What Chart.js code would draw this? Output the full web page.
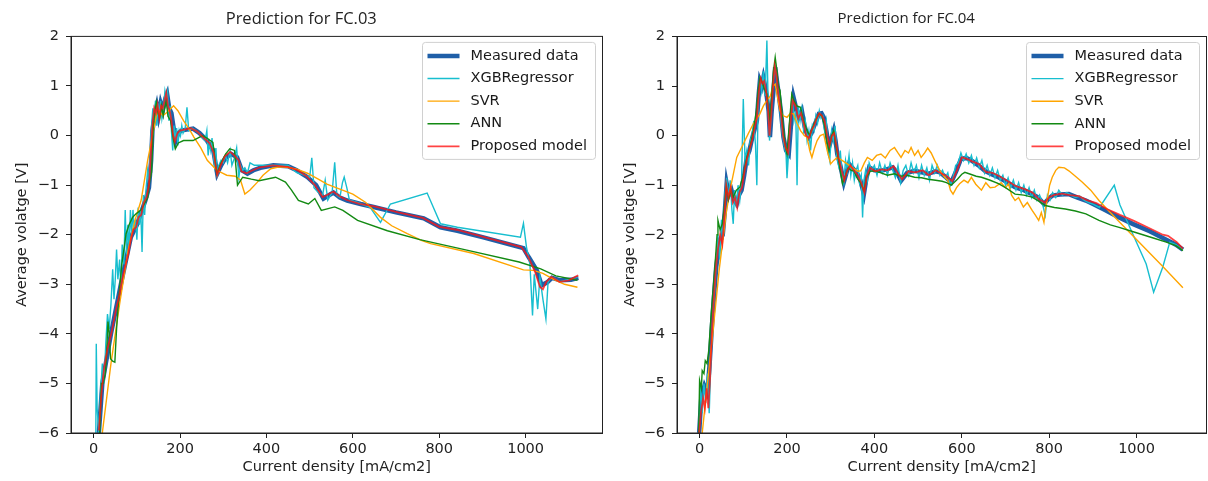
<!DOCTYPE html>
<html>
<head>
<meta charset="utf-8">
<script src="https://cdn.jsdelivr.net/npm/chart.js@4.4.0/dist/chart.umd.min.js"></script>
<style>
  html, body { margin: 0; padding: 0; background: #fff; width: 1208px; height: 481px; overflow: hidden; }
  .panel { position: absolute; top: 0; height: 481px; }
  #left { left: 0; width: 604px; }
  #right { left: 606px; width: 602px; }
</style>
</head>
<body>
<div class="panel" id="left"><canvas id="fc03"></canvas></div>
<div class="panel" id="right"><canvas id="fc04"></canvas></div>
<script>
const seriesLabels = ['Measured data', 'XGBRegressor', 'SVR', 'ANN', 'Proposed model'];
const xTicks = [0, 200, 400, 600, 800, 1000];
const yTicks = [-6, -5, -4, -3, -2, -1, 0, 1, 2];

// FC.03 -- [current density, voltage]
const fc03Measured = [[12,-6],[20,-5],[40,-4],[63,-3],[86,-2.05],[100,-1.8],[110,-1.55],[120,-1.3],[128,-1.05],[133,-0.5],[136,0.1],[142,0.45],[146,0.6],[150,0.4],[155,0.65],[160,0.5],[166,0.75],[170,0.84],[175,0.55],[180,0.45],[186,0.1],[190,-0.1],[196,0.05],[203,0.1],[215,0.12],[230,0.14],[245,0.05],[262,-0.1],[277,-0.3],[286,-0.77],[295,-0.6],[305,-0.45],[318,-0.37],[332,-0.44],[343,-0.7],[356,-0.77],[370,-0.7],[386,-0.65],[416,-0.6],[450,-0.62],[470,-0.7],[495,-0.84],[515,-1.0],[532,-1.27],[555,-1.15],[570,-1.25],[587,-1.31],[618,-1.38],[648,-1.44],[700,-1.55],[764,-1.67],[803,-1.85],[842,-1.92],[900,-2.05],[995,-2.27],[1007,-2.45],[1026,-2.72],[1037,-3.02],[1050,-2.96],[1061,-2.87],[1080,-2.92],[1105,-2.91],[1122,-2.87]];
const fc03Xgb = [[5,-6],[6,-4.2],[8,-5.5],[12,-6],[16,-5.2],[20,-4.6],[24,-5.0],[28,-4.2],[32,-3.6],[36,-3.9],[40,-3.4],[44,-2.7],[47,-3.3],[50,-2.9],[53,-2.3],[56,-2.9],[60,-2.5],[63,-3.1],[66,-2.2],[70,-2.6],[73,-1.5],[76,-2.4],[79,-1.8],[82,-2.3],[85,-1.5],[88,-2.0],[91,-1.5],[94,-1.9],[97,-1.7],[100,-2.1],[103,-1.45],[106,-1.8],[109,-1.5],[112,-2.35],[115,-1.2],[118,-1.6],[121,-1.1],[125,-0.7],[128,-0.9],[131,-0.3],[134,0.2],[137,0.55],[140,0.3],[143,0.7],[146,0.2],[149,0.65],[152,0.45],[155,0.7],[158,0.35],[162,0.6],[165,0.9],[168,0.75],[171,0.88],[174,0.3],[177,0.6],[180,0.1],[183,-0.3],[186,0.2],[189,-0.1],[192,0.15],[195,-0.2],[198,0.1],[201,0.0],[204,0.2],[207,0.05],[212,0.15],[216,0.57],[220,0.1],[228,0.15],[236,0.1],[244,0.05],[252,-0.05],[258,-0.1],[262,0.1],[265,-0.4],[268,-0.15],[271,-0.3],[274,-0.05],[277,-0.4],[280,-0.6],[283,-0.25],[286,-0.85],[290,-0.6],[295,-0.5],[300,-0.55],[305,-0.4],[310,-0.55],[316,-0.3],[320,-0.6],[326,-0.45],[331,-0.25],[336,-0.85],[340,-0.6],[345,-0.7],[350,-0.65],[356,-0.75],[362,-0.55],[372,-0.6],[382,-0.6],[400,-0.6],[430,-0.6],[450,-0.6],[470,-0.75],[490,-0.8],[500,-0.85],[505,-0.45],[510,-1.05],[520,-1.15],[530,-1.2],[536,-0.9],[542,-1.3],[552,-1.15],[558,-0.54],[563,-1.2],[570,-1.25],[576,-0.95],[580,-0.84],[586,-1.05],[592,-1.3],[610,-1.35],[640,-1.45],[664,-1.75],[687,-1.38],[772,-1.16],[803,-1.78],[842,-1.85],[988,-2.05],[995,-1.77],[1002,-2.25],[1010,-2.6],[1016,-3.63],[1020,-2.8],[1028,-3.5],[1033,-2.85],[1040,-3.3],[1047,-3.7],[1052,-2.95],[1060,-2.85],[1080,-2.95],[1100,-2.9],[1122,-2.85]];
const fc03Svr = [[20,-6],[40,-4.6],[60,-3.4],[80,-2.3],[96,-1.7],[110,-1.3],[125,-0.5],[140,0.17],[146,0.45],[152,0.5],[160,0.4],[170,0.47],[185,0.6],[195,0.5],[208,0.3],[222,0.12],[232,-0.03],[248,-0.25],[263,-0.5],[285,-0.7],[308,-0.8],[328,-0.82],[340,-0.9],[350,-1.18],[362,-1.1],[378,-0.95],[392,-0.8],[410,-0.67],[430,-0.63],[448,-0.64],[470,-0.68],[495,-0.76],[520,-0.88],[540,-0.98],[570,-1.08],[600,-1.18],[630,-1.35],[664,-1.65],[690,-1.82],[726,-1.98],[760,-2.12],[780,-2.18],[880,-2.38],[995,-2.71],[1018,-2.72],[1040,-2.78],[1065,-2.9],[1090,-3.0],[1120,-3.06]];
const fc03Ann = [[14,-6],[16,-5.4],[18,-5.0],[22,-5.0],[27,-4.8],[30,-4.4],[33,-3.75],[36,-4.0],[39,-4.5],[44,-4.55],[49,-4.57],[53,-3.9],[57,-3.4],[60,-3.1],[65,-2.6],[70,-2.3],[75,-1.98],[82,-1.8],[90,-1.65],[98,-1.58],[110,-1.5],[125,-1.25],[130,-0.9],[134,-0.74],[138,0.2],[142,0.5],[145,0.67],[149,0.45],[153,0.35],[157,0.6],[161,0.4],[164,0.55],[168,0.7],[172,0.39],[178,0.3],[184,-0.05],[189,-0.27],[196,-0.15],[208,-0.1],[230,-0.1],[252,0.0],[262,-0.05],[276,-0.14],[285,-0.77],[295,-0.55],[305,-0.38],[315,-0.27],[326,-0.3],[333,-1.0],[345,-0.84],[365,-0.88],[383,-0.91],[421,-0.84],[444,-0.94],[458,-1.1],[474,-1.31],[497,-1.38],[512,-1.27],[527,-1.51],[545,-1.47],[558,-1.44],[577,-1.51],[611,-1.71],[680,-1.92],[755,-2.1],[869,-2.32],[985,-2.55],[1035,-2.69],[1070,-2.83],[1120,-2.92]];
const fc03Proposed = [[12,-5.95],[18,-5.2],[24,-4.7],[32,-4.3],[42,-3.95],[52,-3.5],[60,-3.2],[66,-2.9],[74,-2.6],[80,-2.4],[86,-2.1],[92,-1.9],[98,-1.85],[104,-1.65],[110,-1.6],[116,-1.35],[122,-1.25],[128,-1.0],[132,-0.4],[136,0.2],[140,0.55],[144,0.45],[148,0.62],[152,0.35],[156,0.6],[160,0.55],[164,0.7],[168,0.86],[172,0.6],[176,0.5],[180,0.3],[184,0.0],[188,-0.12],[194,0.05],[200,0.1],[210,0.12],[225,0.15],[240,0.08],[255,-0.05],[268,-0.15],[278,-0.35],[286,-0.8],[294,-0.6],[304,-0.42],[316,-0.33],[328,-0.42],[336,-0.5],[342,-0.72],[354,-0.76],[368,-0.7],[385,-0.64],[415,-0.6],[450,-0.63],[472,-0.7],[493,-0.82],[512,-1.0],[530,-1.24],[540,-1.2],[555,-1.13],[568,-1.22],[586,-1.3],[616,-1.38],[650,-1.43],[705,-1.55],[762,-1.66],[800,-1.84],[840,-1.9],[900,-2.04],[990,-2.25],[1005,-2.43],[1022,-2.75],[1033,-3.05],[1040,-3.1],[1048,-2.95],[1060,-2.85],[1078,-2.95],[1100,-2.92],[1115,-2.85],[1122,-2.82]];

// FC.04
const fc04Measured = [[-1,-6],[4,-5.27],[11,-5.05],[18,-5.2],[23,-4.6],[30,-3.6],[38,-2.65],[46,-2.12],[53,-2.0],[58,-1.5],[62,-0.97],[67,-1.2],[73,-1.1],[79,-1.3],[85,-1.38],[90,-1.2],[96,-1.1],[102,-0.8],[108,-0.44],[114,-0.3],[119,-0.1],[125,0.1],[131,0.3],[135,0.8],[138,1.1],[142,1.0],[146,1.17],[150,1.0],[154,0.77],[158,0.5],[161,-0.03],[165,0.5],[169,0.9],[173,1.38],[177,1.1],[180,0.91],[186,0.5],[192,-0.03],[198,-0.3],[204,-0.37],[209,0.2],[215,0.77],[221,0.55],[227,0.37],[234,0.5],[240,0.2],[245,0.05],[250,-0.03],[256,0.05],[261,0.17],[267,0.3],[273,0.44],[279,0.45],[284,0.37],[290,0.1],[296,-0.24],[302,-0.05],[307,0.1],[311,-0.1],[315,-0.37],[322,-0.6],[330,-0.94],[336,-0.75],[342,-0.57],[350,-0.65],[361,-0.77],[368,-0.9],[376,-1.18],[382,-0.85],[388,-0.64],[400,-0.7],[415,-0.71],[428,-0.68],[442,-0.64],[452,-0.75],[461,-0.91],[475,-0.75],[492,-0.71],[508,-0.74],[523,-0.77],[540,-0.72],[550,-0.74],[565,-0.85],[576,-0.94],[588,-0.7],[598,-0.47],[610,-0.45],[622,-0.5],[638,-0.6],[653,-0.71],[668,-0.78],[684,-0.84],[700,-0.92],[722,-1.04],[742,-1.1],[761,-1.18],[775,-1.25],[788,-1.38],[798,-1.28],[807,-1.21],[825,-1.19],[845,-1.18],[865,-1.25],[884,-1.31],[905,-1.4],[930,-1.51],[960,-1.65],[991,-1.78],[1030,-1.93],[1068,-2.1],[1090,-2.2],[1106,-2.3]];
const fc04Xgb = [[-1,-6],[2,-5.0],[6,-5.6],[10,-5.0],[14,-5.4],[18,-4.8],[22,-5.6],[26,-4.5],[30,-3.7],[34,-3.2],[38,-2.6],[42,-2.0],[46,-2.5],[50,-1.7],[54,-2.1],[58,-1.2],[62,-0.85],[66,-1.3],[70,-0.9],[74,-1.5],[77,-1.78],[80,-1.1],[84,-1.45],[88,-1.0],[92,-1.3],[96,-0.9],[100,0.74],[104,-0.5],[108,-0.3],[112,-0.6],[116,-0.1],[120,0.0],[124,0.3],[128,-0.2],[131,-1.0],[134,0.7],[138,1.2],[142,0.9],[146,1.3],[150,0.8],[154,1.92],[157,0.6],[160,-0.1],[163,0.3],[167,1.0],[170,1.2],[174,1.4],[178,1.0],[182,0.8],[186,0.3],[190,0.0],[194,-0.2],[198,-0.4],[200,-0.86],[204,-0.3],[208,0.4],[212,0.75],[216,0.3],[220,0.5],[223,-1.0],[226,0.6],[230,0.3],[234,0.55],[238,0.1],[242,0.3],[246,-0.1],[250,0.1],[254,-0.3],[258,0.2],[262,0.1],[266,0.4],[270,0.25],[274,0.5],[278,0.35],[282,0.4],[286,0.1],[290,0.3],[294,-0.3],[298,-0.5],[302,0.1],[306,-0.1],[310,0.2],[314,-0.4],[318,-0.6],[322,-0.3],[326,-0.8],[330,-0.95],[334,-0.5],[338,-0.7],[342,-0.4],[346,-0.8],[350,-0.55],[354,-0.9],[358,-0.7],[362,-0.6],[366,-0.95],[370,-0.8],[373,-1.65],[376,-0.9],[380,-0.7],[384,-0.9],[388,-0.55],[394,-0.7],[400,-0.6],[406,-0.8],[412,-0.55],[418,-0.75],[424,-0.6],[430,-0.8],[436,-0.55],[442,-0.7],[448,-0.85],[454,-0.6],[460,-0.95],[466,-0.7],[472,-0.6],[478,-0.8],[484,-0.55],[490,-0.75],[496,-0.6],[502,-0.85],[508,-0.6],[514,-0.8],[520,-0.65],[526,-0.9],[532,-0.6],[538,-0.75],[544,-0.6],[550,-0.8],[556,-0.7],[562,-0.85],[568,-0.75],[574,-1.0],[580,-0.85],[586,-0.6],[592,-0.55],[598,-0.35],[604,-0.5],[610,-0.37],[616,-0.55],[622,-0.4],[628,-0.6],[634,-0.45],[640,-0.65],[646,-0.5],[652,-0.75],[658,-0.6],[664,-0.8],[670,-0.65],[676,-0.85],[682,-0.7],[688,-0.9],[694,-0.8],[700,-1.0],[706,-0.85],[712,-1.05],[718,-0.9],[724,-1.1],[730,-0.95],[736,-1.15],[742,-1.0],[748,-1.2],[754,-1.05],[760,-1.25],[766,-1.1],[772,-1.3],[778,-1.2],[784,-1.35],[791,-1.61],[796,-1.2],[802,-1.3],[808,-1.15],[815,-1.25],[822,-1.1],[830,-1.2],[840,-1.15],[850,-1.2],[860,-1.25],[870,-1.22],[880,-1.3],[890,-1.35],[900,-1.38],[915,-1.45],[949,-1.0],[962,-1.4],[991,-1.98],[1022,-2.59],[1039,-3.16],[1060,-2.65],[1076,-2.15],[1090,-2.2],[1106,-2.3]];
const fc04Svr = [[6,-6],[18,-5.0],[30,-4.0],[45,-2.7],[61,-1.55],[72,-1.0],[85,-0.44],[100,-0.17],[112,0.05],[123,0.24],[138,0.44],[146,0.6],[154,0.71],[162,0.8],[168,1.0],[173,1.04],[178,0.8],[184,0.5],[192,0.4],[200,0.37],[208,0.45],[215,0.44],[223,0.25],[231,0.1],[240,0.0],[246,-0.03],[252,-0.3],[257,-0.44],[263,-0.25],[269,-0.1],[276,0.0],[284,0.03],[292,-0.3],[300,-0.57],[307,-0.5],[315,-0.44],[326,-0.5],[338,-0.57],[350,-0.65],[362,-0.72],[369,-0.71],[377,-0.55],[384,-0.44],[395,-0.5],[405,-0.4],[415,-0.37],[425,-0.45],[436,-0.3],[446,-0.24],[454,-0.35],[461,-0.44],[470,-0.3],[478,-0.35],[484,-0.24],[492,-0.4],[500,-0.3],[507,-0.44],[515,-0.35],[522,-0.25],[530,-0.35],[538,-0.5],[546,-0.64],[553,-0.75],[561,-0.84],[568,-0.9],[574,-1.1],[580,-1.18],[588,-1.05],[595,-0.97],[605,-0.9],[614,-0.95],[622,-0.84],[632,-0.98],[645,-1.1],[655,-0.95],[665,-1.05],[676,-1.04],[690,-0.95],[700,-1.05],[707,-0.97],[714,-1.2],[722,-1.31],[730,-1.25],[741,-1.44],[750,-1.35],[761,-1.51],[768,-1.6],[776,-1.71],[782,-1.55],[788,-1.75],[792,-1.45],[795,-1.31],[801,-1.0],[807,-0.84],[815,-0.7],[822,-0.64],[835,-0.65],[845,-0.71],[860,-0.82],[876,-0.94],[895,-1.1],[914,-1.31],[953,-1.67],[1007,-2.16],[1060,-2.64],[1106,-3.07]];
const fc04Ann = [[-2,-6],[0,-4.94],[4,-5.1],[6,-4.74],[10,-4.8],[13,-4.54],[17,-4.6],[21,-4.33],[25,-3.8],[30,-3.2],[35,-2.65],[40,-2.0],[42,-1.71],[47,-1.9],[52,-1.78],[56,-1.5],[61,-1.04],[66,-1.3],[72,-1.1],[77,-1.24],[84,-1.1],[92,-1.04],[100,-0.8],[108,-0.44],[116,-0.2],[123,0.1],[130,0.5],[134,0.9],[138,1.17],[142,1.1],[146,1.0],[150,0.9],[154,0.84],[158,0.5],[161,0.3],[165,0.8],[169,1.3],[173,1.58],[177,1.3],[180,1.0],[184,0.91],[190,0.3],[196,-0.2],[200,-0.37],[205,0.2],[211,0.84],[216,0.7],[222,0.6],[231,0.57],[238,0.3],[246,0.1],[252,0.0],[258,0.15],[265,0.3],[273,0.44],[280,0.4],[286,0.2],[291,-0.1],[296,-0.3],[302,0.0],[307,0.1],[312,-0.2],[318,-0.5],[323,-0.75],[327,-0.97],[334,-0.8],[340,-0.65],[347,-0.7],[353,-0.71],[360,-0.85],[368,-0.95],[376,-1.11],[382,-0.85],[390,-0.72],[400,-0.71],[415,-0.75],[430,-0.8],[446,-0.77],[460,-0.82],[475,-0.8],[492,-0.84],[508,-0.85],[523,-0.88],[540,-0.9],[555,-0.92],[565,-0.95],[576,-1.0],[590,-0.88],[600,-0.78],[607,-0.74],[620,-0.78],[633,-0.82],[645,-0.84],[665,-0.9],[684,-0.97],[700,-1.05],[722,-1.18],[742,-1.2],[761,-1.24],[776,-1.32],[791,-1.41],[812,-1.45],[837,-1.48],[860,-1.52],[884,-1.58],[914,-1.71],[940,-1.8],[960,-1.85],[985,-1.92],[1007,-1.98],[1040,-2.07],[1068,-2.15],[1090,-2.22],[1106,-2.32]];
const fc04Proposed = [[-1,-6],[3,-5.6],[8,-5.3],[12,-5.5],[16,-5.1],[20,-5.5],[24,-4.9],[28,-4.0],[32,-3.4],[37,-2.7],[42,-2.3],[47,-2.0],[52,-2.2],[57,-1.6],[61,-1.0],[66,-1.25],[71,-1.05],[76,-1.35],[81,-1.25],[86,-1.45],[91,-1.15],[97,-1.05],[103,-0.7],[109,-0.45],[115,-0.25],[120,-0.1],[126,0.15],[131,0.35],[136,0.9],[140,1.15],[144,1.05],[148,1.1],[152,0.9],[156,0.6],[160,0.0],[164,0.4],[168,1.0],[172,1.4],[176,1.2],[180,0.85],[185,0.55],[191,0.0],[197,-0.25],[203,-0.35],[208,0.25],[213,0.7],[219,0.6],[226,0.35],[232,0.45],[238,0.25],[244,0.0],[250,-0.05],[256,0.1],[262,0.2],[268,0.35],[274,0.45],[280,0.4],[286,0.3],[291,0.05],[297,-0.2],[303,0.0],[308,0.05],[313,-0.2],[318,-0.45],[325,-0.7],[331,-0.9],[338,-0.7],[345,-0.6],[353,-0.7],[362,-0.8],[370,-0.95],[377,-1.15],[383,-0.8],[390,-0.65],[402,-0.72],[416,-0.68],[430,-0.7],[444,-0.62],[455,-0.78],[463,-0.88],[478,-0.72],[494,-0.74],[510,-0.7],[525,-0.8],[540,-0.7],[552,-0.76],[566,-0.82],[578,-0.92],[590,-0.68],[600,-0.44],[612,-0.47],[624,-0.52],[640,-0.58],[655,-0.73],[670,-0.75],[686,-0.82],[702,-0.9],[724,-1.02],[744,-1.08],[762,-1.15],[776,-1.28],[790,-1.35],[800,-1.25],[810,-1.2],[828,-1.17],[848,-1.2],[868,-1.22],[886,-1.3],[908,-1.36],[932,-1.48],[962,-1.6],[994,-1.72],[1032,-1.88],[1060,-2.0],[1072,-2.02],[1092,-2.15],[1106,-2.28]];

const seriesColors = ['#1f5fa8', '#17becf', '#ffa500', '#138a13', 'rgba(255,20,20,0.8)'];
const seriesWidths = [4.5, 1.4, 1.4, 1.4, 1.8];
const FONT = '"DejaVu Sans", sans-serif';

// legend box in the upper right corner of the plot
const boxLegend = {
  id: 'boxLegend',
  afterDraw(chart) {
    const { ctx, chartArea } = chart;
    const w = 173, h = 117;
    const x0 = chartArea.right - 7 - w, y0 = chartArea.top + 6;
    ctx.save();
    ctx.fillStyle = 'rgba(255,255,255,0.85)';
    ctx.strokeStyle = '#d0d0d0';
    ctx.lineWidth = 1;
    ctx.beginPath();
    ctx.roundRect(x0, y0, w, h, 3);
    ctx.fill();
    ctx.stroke();
    ctx.font = '14.5px ' + FONT;
    ctx.textBaseline = 'middle';
    chart.data.datasets.forEach((ds, i) => {
      const y = y0 + 13.5 + i * 22.6;
      ctx.strokeStyle = ds.borderColor;
      ctx.lineWidth = ds.borderWidth;
      ctx.beginPath();
      ctx.moveTo(x0 + 5, y);
      ctx.lineTo(x0 + 37, y);
      ctx.stroke();
      ctx.fillStyle = '#1a1a1a';
      ctx.fillText(ds.label, x0 + 48, y);
    });
    ctx.restore();
  }
};

// matplotlib-like frame on all four sides
const frame = {
  id: 'frame',
  afterDraw(chart) {
    const { ctx, chartArea: a } = chart;
    ctx.save();
    ctx.strokeStyle = '#222';
    ctx.lineWidth = 1;
    ctx.strokeRect(a.left, a.top, a.right - a.left, a.bottom - a.top);
    ctx.restore();
  }
};

function makeChart(id, title, titleSize, titlePad, yTitlePad, xMin, xMax, series) {
  return new Chart(document.getElementById(id), {
    type: 'line',
    data: {
      datasets: series.map((pts, i) => ({
        label: seriesLabels[i],
        data: pts.map(([x, y]) => ({ x, y })),
        borderColor: seriesColors[i],
        borderWidth: seriesWidths[i],
        pointRadius: 0,
        tension: 0,
        fill: false,
        order: 5 - i
      }))
    },
    options: {
      responsive: true,
      maintainAspectRatio: false,
      animation: false,
      layout: { padding: { top: 0, right: 1.5, bottom: 0, left: 0 } },
      plugins: {
        legend: { display: false },
        tooltip: { enabled: false },
        title: {
          display: true,
          text: title,
          color: '#222',
          font: { family: '"Open Sans", sans-serif', size: titleSize, weight: 'normal', lineHeight: 1.2 },
          padding: titlePad
        }
      },
      scales: {
        x: {
          type: 'linear',
          min: xMin,
          max: xMax,
          afterBuildTicks: s => { s.ticks = xTicks.map(v => ({ value: v })); },
          afterFit: s => { s.height = 48; },
          grid: { drawOnChartArea: false, drawTicks: true, tickLength: 5, color: '#222' },
          border: { display: true, color: '#222' },
          ticks: { color: '#222', padding: 3, font: { family: FONT, size: 14.5 }, maxRotation: 0, callback: v => String(v) },
          title: { display: true, text: 'Current density [mA/cm2]', color: '#222', font: { family: FONT, size: 14.5 }, padding: { top: 0, bottom: 5 } }
        },
        y: {
          min: -6,
          max: 2,
          afterBuildTicks: s => { s.ticks = yTicks.map(v => ({ value: v })); },
          afterFit: s => { s.width = 71; },
          grid: { drawOnChartArea: false, drawTicks: true, tickLength: 5, color: '#222' },
          border: { display: true, color: '#222' },
          ticks: { color: '#222', padding: 7, font: { family: FONT, size: 14.5 }, callback: v => String(v).replace('-', '\u2212') },
          title: { display: true, text: 'Average volatge [V]', color: '#222', font: { family: FONT, size: 14.5 }, padding: { top: yTitlePad, bottom: 0 } }
        }
      }
    },
    plugins: [frame, boxLegend]
  });
}

makeChart('fc03', 'Prediction for FC.03', 16.5, { top: 9.6, bottom: 7 }, 14, -52.5, 1178,
  [fc03Measured, fc03Xgb, fc03Svr, fc03Ann, fc03Proposed]);
makeChart('fc04', 'Prediction for FC.04', 15, { top: 9.7, bottom: 8.8 }, 16, -51.7, 1160,
  [fc04Measured, fc04Xgb, fc04Svr, fc04Ann, fc04Proposed]);
</script>
</body>
</html>
